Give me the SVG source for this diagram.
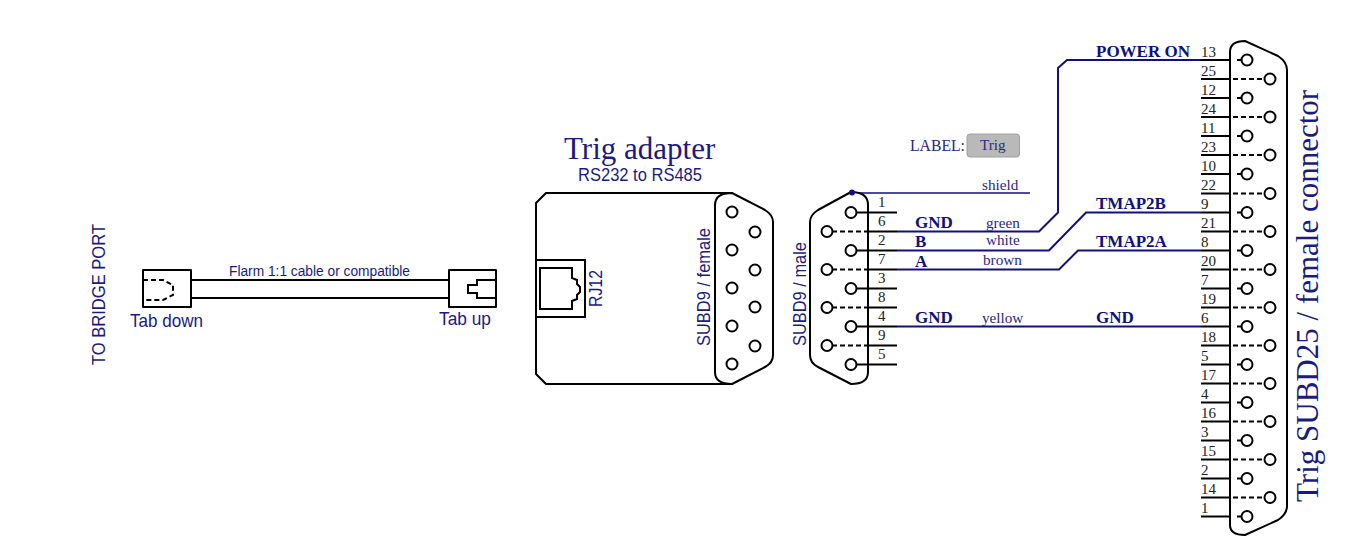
<svg xmlns="http://www.w3.org/2000/svg" width="1350" height="539" viewBox="0 0 1350 539">
<style>
.b{fill:none;stroke:#000;stroke-width:2}
.d{fill:none;stroke:#000;stroke-width:2;stroke-dasharray:5 3}
.w{fill:none;stroke:#10107e;stroke-width:2}
.p{fill:#fff;stroke:#000;stroke-width:2}
.s{fill:#fff;stroke:#000;stroke-width:2;stroke-linejoin:round}
text{fill:#1a1a80}
.a{font-family:"Liberation Sans",Arial,sans-serif}
.t{font-family:"Liberation Serif","Times New Roman",serif}
.n{font-family:"Liberation Serif","Times New Roman",serif;font-size:15px;fill:#222}
.l{font-family:"Liberation Serif","Times New Roman",serif;font-size:15.2px;fill:#2a2a80}
.g{font-family:"Liberation Serif","Times New Roman",serif;font-size:17px;font-weight:bold;fill:#10107a}
</style>
<rect width="1350" height="539" fill="#fff"/>
<g id="connectors">
<path class="b" d="M191,280H449M191,298H449"/>
<path class="w" style="stroke-width:1.600" d="M852,193H1030"/>
<path class="w" d="M897,231.500H1039L1058,212.500V68L1067,60H1201"/>
<path class="w" d="M897,250.500H1049L1086,212.500H1201"/>
<path class="w" d="M897,269.500H1059L1078,250.500H1201"/>
<path class="w" d="M897,326.500H1201"/>
</g>
<text class="a" font-size="18" textLength="141" lengthAdjust="spacingAndGlyphs" transform="translate(105,365) rotate(-90)">TO BRIDGE PORT</text>
<text class="a" x="229" y="276" font-size="15.500" textLength="181" lengthAdjust="spacingAndGlyphs">Flarm 1:1 cable or compatible</text>
<g id="plug-tab-down">
<rect class="s" x="143" y="270" width="48" height="37"/>
<path class="d" d="M143,280H163L173,285V295L163,300H143"/>
<text class="a" x="130" y="327" font-size="19" textLength="73" lengthAdjust="spacingAndGlyphs">Tab down</text>
</g>
<g id="plug-tab-up">
<rect class="s" x="449" y="270" width="47" height="37"/>
<path class="b" d="M496,280H477V285H468V293H477V298H496"/>
<text class="a" x="439" y="325" font-size="19" textLength="52" lengthAdjust="spacingAndGlyphs">Tab up</text>
</g>
<g id="trig-adapter">
<text class="t" x="564" y="159" font-size="31">Trig adapter</text>
<text class="a" x="578" y="181" font-size="18" textLength="124" lengthAdjust="spacingAndGlyphs">RS232 to RS485</text>
<path class="s" d="M546,193H732V384H546L536,374V203Z"/>
<rect class="b" x="536" y="260" width="49" height="57"/>
<path class="b" d="M540,268H572V278L577,280V284L580,287V292L577,295V299L572,301V309H540Z"/>
<text class="a" font-size="18" textLength="37" lengthAdjust="spacingAndGlyphs" transform="translate(602,307) rotate(-90)">RJ12</text>
<path class="s" d="M715,205Q715,193 732,193L765,210Q773,215 773,222V355Q773,363 765,367L732,384Q715,384 715,372Z"/>
<text class="a" font-size="18" textLength="118" lengthAdjust="spacingAndGlyphs" transform="translate(710,346) rotate(-90)">SUBD9 / female</text>
<circle class="p" cx="732" cy="212" r="5.500"/><circle class="p" cx="732" cy="250" r="5.500"/><circle class="p" cx="732" cy="288" r="5.500"/><circle class="p" cx="732" cy="326" r="5.500"/><circle class="p" cx="732" cy="364" r="5.500"/>
<circle class="p" cx="755" cy="232" r="5.500"/><circle class="p" cx="755" cy="270" r="5.500"/><circle class="p" cx="755" cy="307" r="5.500"/><circle class="p" cx="755" cy="346" r="5.500"/>
</g>
<g id="subd9-male">
<path class="s" d="M868,205Q868,192 851,192L818,210Q810,215 810,222V355Q810,363 818,367L851,384Q868,384 868,372Z"/>
<circle cx="852" cy="192.500" r="3" fill="#10107e"/>
<text class="a" font-size="18" textLength="104" lengthAdjust="spacingAndGlyphs" transform="translate(806,346) rotate(-90)">SUBD9 / male</text>
<path class="b" d="M856,212.500H897M868,231.500H897M856,250.500H897M868,269.500H897M856,288.500H897M868,307.500H897M856,326.500H897M868,345.500H897M856,364.500H897"/>
<path class="d" d="M832,231.500H868M832,269.500H868M832,307.500H868M832,345.500H868"/>
<circle class="p" cx="851" cy="212.500" r="5.500"/><circle class="p" cx="851" cy="250.500" r="5.500"/><circle class="p" cx="851" cy="288.500" r="5.500"/><circle class="p" cx="851" cy="326.500" r="5.500"/><circle class="p" cx="851" cy="364.500" r="5.500"/>
<circle class="p" cx="827" cy="231.500" r="5.500"/><circle class="p" cx="827" cy="269.500" r="5.500"/><circle class="p" cx="827" cy="307.500" r="5.500"/><circle class="p" cx="827" cy="345.500" r="5.500"/>
<text class="n" x="878" y="207">1</text><text class="n" x="878" y="226">6</text><text class="n" x="878" y="245">2</text><text class="n" x="878" y="264">7</text><text class="n" x="878" y="283">3</text><text class="n" x="878" y="302">8</text><text class="n" x="878" y="321">4</text><text class="n" x="878" y="340">9</text><text class="n" x="878" y="359">5</text>
</g>
<g id="label-box">
<text class="l" x="910" y="151" style="font-size:15.700px">LABEL:</text>
<rect x="967" y="134" width="52.500" height="23" rx="3" fill="#b9b9b9" stroke="#a0a0a0"/>
<text class="l" x="980" y="150">Trig</text>
</g>
<g id="wire-labels">
<text class="l" x="982" y="190">shield</text>
<text class="g" x="915" y="228">GND</text><text class="l" x="986" y="228">green</text>
<text class="g" x="915" y="247">B</text><text class="l" x="986" y="245">white</text>
<text class="g" x="915" y="267">A</text><text class="l" x="983" y="265">brown</text>
<text class="g" x="915" y="323">GND</text><text class="l" x="982" y="323">yellow</text>
<text class="g" x="1096" y="57">POWER ON</text>
<text class="g" x="1096" y="209">TMAP2B</text>
<text class="g" x="1096" y="247">TMAP2A</text>
<text class="g" x="1096" y="323">GND</text>
</g>
<g id="subd25-female">
<path class="s" d="M1230,52Q1230,41 1245,41L1278,56Q1287,62 1287,70V506Q1287,514 1278,520L1245,535Q1230,535 1230,525Z"/>
<path class="b" d="M1201,60H1230M1201,79H1230M1201,98H1230M1201,117H1230M1201,136H1230M1201,155H1230M1201,174H1230M1201,193.500H1230M1201,212.500H1230M1201,231.500H1230M1201,250.500H1230M1201,269.500H1230M1201,288.500H1230M1201,307.500H1230M1201,326.500H1230M1201,345.500H1230M1201,364.500H1230M1201,383.500H1230M1201,402.500H1230M1201,421.500H1230M1201,440.500H1230M1201,459.500H1230M1201,478.500H1230M1201,497.500H1230M1201,516.500H1230"/>
<path class="b" d="M1237,60H1243M1237,98H1243M1237,136H1243M1237,174H1243M1237,212.500H1243M1237,250.500H1243M1237,288.500H1243M1237,326.500H1243M1237,364.500H1243M1237,402.500H1243M1237,440.500H1243M1237,478.500H1243M1237,516.500H1243"/>
<path class="d" d="M1233,79H1266M1233,117H1266M1233,155H1266M1233,193.500H1266M1233,231.500H1266M1233,269.500H1266M1233,307.500H1266M1233,345.500H1266M1233,383.500H1266M1233,421.500H1266M1233,459.500H1266M1233,497.500H1266"/>
<circle class="p" cx="1247" cy="60" r="5.500"/><circle class="p" cx="1247" cy="98" r="5.500"/><circle class="p" cx="1247" cy="136" r="5.500"/><circle class="p" cx="1247" cy="174" r="5.500"/><circle class="p" cx="1247" cy="212.500" r="5.500"/><circle class="p" cx="1247" cy="250.500" r="5.500"/><circle class="p" cx="1247" cy="288.500" r="5.500"/><circle class="p" cx="1247" cy="326.500" r="5.500"/><circle class="p" cx="1247" cy="364.500" r="5.500"/><circle class="p" cx="1247" cy="402.500" r="5.500"/><circle class="p" cx="1247" cy="440.500" r="5.500"/><circle class="p" cx="1247" cy="478.500" r="5.500"/><circle class="p" cx="1247" cy="516.500" r="5.500"/>
<circle class="p" cx="1270" cy="79" r="5.500"/><circle class="p" cx="1270" cy="117" r="5.500"/><circle class="p" cx="1270" cy="155" r="5.500"/><circle class="p" cx="1270" cy="193.500" r="5.500"/><circle class="p" cx="1270" cy="231.500" r="5.500"/><circle class="p" cx="1270" cy="269.500" r="5.500"/><circle class="p" cx="1270" cy="307.500" r="5.500"/><circle class="p" cx="1270" cy="345.500" r="5.500"/><circle class="p" cx="1270" cy="383.500" r="5.500"/><circle class="p" cx="1270" cy="421.500" r="5.500"/><circle class="p" cx="1270" cy="459.500" r="5.500"/><circle class="p" cx="1270" cy="497.500" r="5.500"/>
<text class="n" x="1201" y="57">13</text><text class="n" x="1201" y="76">25</text><text class="n" x="1201" y="95">12</text><text class="n" x="1201" y="114">24</text><text class="n" x="1201" y="133">11</text><text class="n" x="1201" y="152">23</text><text class="n" x="1201" y="171">10</text><text class="n" x="1201" y="190">22</text><text class="n" x="1201" y="209">9</text><text class="n" x="1201" y="228">21</text><text class="n" x="1201" y="247">8</text><text class="n" x="1201" y="266">20</text><text class="n" x="1201" y="285">7</text><text class="n" x="1201" y="304">19</text><text class="n" x="1201" y="323">6</text><text class="n" x="1201" y="342">18</text><text class="n" x="1201" y="361">5</text><text class="n" x="1201" y="380">17</text><text class="n" x="1201" y="399">4</text><text class="n" x="1201" y="418">16</text><text class="n" x="1201" y="437">3</text><text class="n" x="1201" y="456">15</text><text class="n" x="1201" y="475">2</text><text class="n" x="1201" y="494">14</text><text class="n" x="1201" y="513">1</text>
<text class="t" font-size="31" transform="translate(1318,502) rotate(-90)">Trig SUBD25 / female connector</text>
</g>
</svg>
